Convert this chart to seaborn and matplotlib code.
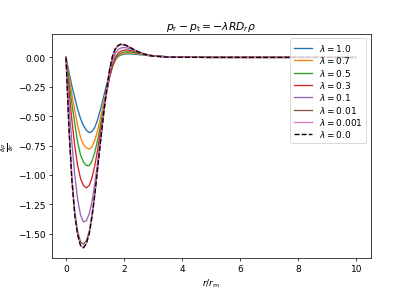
import matplotlib
matplotlib.use('Agg')

import numpy as np
import pandas as pd
import matplotlib.pyplot as plt
import seaborn as sns

r = [0.0, 0.1, 0.2, 0.3, 0.4, 0.5, 0.6, 0.7, 0.8, 0.9,
     1.0, 1.1, 1.2, 1.3, 1.4, 1.5, 1.6, 1.7, 1.8, 1.9,
     2.0, 2.1, 2.2, 2.3, 2.4, 2.5, 2.6, 2.7, 2.8, 2.9,
     3.0, 3.5, 4.0, 5.0, 6.0, 7.0, 8.0, 9.0, 10.0]

lambdas = ['1.0', '0.7', '0.5', '0.3', '0.1', '0.01', '0.001', '0.0']

# d rho / d r for each lambda
lam_1p0 = [0.0, -0.12, -0.24, -0.34, -0.44, -0.52, -0.58, -0.62, -0.64, -0.63,
           -0.59, -0.52, -0.43, -0.33, -0.23, -0.14, -0.07, -0.02, 0.008, 0.021,
           0.028, 0.030, 0.030, 0.029, 0.027, 0.024, 0.022, 0.019, 0.016, 0.014,
           0.012, 0.005, 0.002, 0.0005, 0.0, 0.0, 0.0, 0.0, 0.0]
lam_0p7 = [0.0, -0.16, -0.31, -0.45, -0.58, -0.68, -0.74, -0.77, -0.78, -0.76,
           -0.70, -0.61, -0.50, -0.38, -0.27, -0.16, -0.08, -0.02, 0.012, 0.028,
           0.036, 0.039, 0.039, 0.037, 0.034, 0.030, 0.026, 0.022, 0.019, 0.015,
           0.012, 0.005, 0.002, 0.0, 0.0, 0.0, 0.0, 0.0, 0.0]
lam_0p5 = [0.0, -0.20, -0.39, -0.56, -0.72, -0.83, -0.89, -0.92, -0.92, -0.88,
           -0.80, -0.69, -0.56, -0.42, -0.29, -0.17, -0.08, -0.015, 0.02, 0.038,
           0.046, 0.048, 0.047, 0.044, 0.040, 0.035, 0.030, 0.026, 0.021, 0.017,
           0.014, 0.005, 0.002, 0.0, 0.0, 0.0, 0.0, 0.0, 0.0]
lam_0p3 = [0.0, -0.27, -0.53, -0.75, -0.92, -1.03, -1.09, -1.11, -1.09, -1.02,
           -0.91, -0.77, -0.61, -0.45, -0.30, -0.17, -0.07, 0.0, 0.038, 0.055,
           0.062, 0.063, 0.060, 0.055, 0.049, 0.042, 0.036, 0.030, 0.024, 0.019,
           0.015, 0.005, 0.0015, 0.0, 0.0, 0.0, 0.0, 0.0, 0.0]
lam_0p1 = [0.0, -0.40, -0.72, -1.00, -1.21, -1.34, -1.40, -1.39, -1.33, -1.22,
           -1.06, -0.87, -0.67, -0.47, -0.29, -0.14, -0.03, 0.035, 0.068, 0.081,
           0.084, 0.081, 0.074, 0.065, 0.055, 0.046, 0.037, 0.030, 0.023, 0.018,
           0.013, 0.004, 0.001, 0.0, 0.0, 0.0, 0.0, 0.0, 0.0]
lam_0p01 = [0.0, -0.58, -1.01, -1.31, -1.48, -1.57, -1.59, -1.56, -1.48, -1.33,
            -1.14, -0.91, -0.68, -0.47, -0.27, -0.11, 0.005, 0.07, 0.10, 0.109,
            0.106, 0.097, 0.085, 0.071, 0.058, 0.046, 0.036, 0.027, 0.020, 0.015,
            0.011, 0.003, 0.001, 0.0, 0.0, 0.0, 0.0, 0.0, 0.0]
lam_0p001 = [0.0, -0.60, -1.04, -1.34, -1.51, -1.60, -1.62, -1.585, -1.50, -1.35,
             -1.15, -0.92, -0.69, -0.47, -0.27, -0.11, 0.01, 0.075, 0.103, 0.112,
             0.109, 0.099, 0.086, 0.072, 0.058, 0.046, 0.036, 0.027, 0.020, 0.015,
             0.011, 0.003, 0.001, 0.0, 0.0, 0.0, 0.0, 0.0, 0.0]
lam_0p0 = [0.0, -0.60, -1.04, -1.34, -1.51, -1.60, -1.62, -1.585, -1.50, -1.35,
           -1.15, -0.92, -0.69, -0.47, -0.27, -0.11, 0.01, 0.075, 0.103, 0.113,
           0.109, 0.099, 0.086, 0.072, 0.058, 0.046, 0.036, 0.027, 0.020, 0.015,
           0.011, 0.003, 0.001, 0.0, 0.0, 0.0, 0.0, 0.0, 0.0]

series = [lam_1p0, lam_0p7, lam_0p5, lam_0p3, lam_0p1, lam_0p01, lam_0p001, lam_0p0]
colors = ['tab:blue', 'tab:orange', 'tab:green', 'tab:red',
          'tab:purple', 'tab:brown', 'tab:pink', 'k']

fig, ax = plt.subplots(figsize=(6.4, 4.52), dpi=64.375)

for lam, vals, c in zip(lambdas, series, colors):
    df = pd.DataFrame({'r': r, 'drho': vals})
    ls = '--' if lam == '0.0' else '-'
    sns.lineplot(data=df, x='r', y='drho', ax=ax, color=c, linestyle=ls,
                 linewidth=1.5, label=r'$\lambda = %s$' % lam)

ax.set_xticks([0, 2, 4, 6, 8, 10])
ax.set_xlabel(r'$r/r_\mathrm{m}$')
ax.set_ylabel(r'$\frac{\partial \rho}{\partial r}$', labelpad=2)
ax.set_title(r'$p_\mathrm{r} - p_\mathrm{t} = -\lambda R D_r \rho$')
ax.legend(loc='upper right', labelspacing=0.15)

fig.savefig('out.png', dpi=64.375)
